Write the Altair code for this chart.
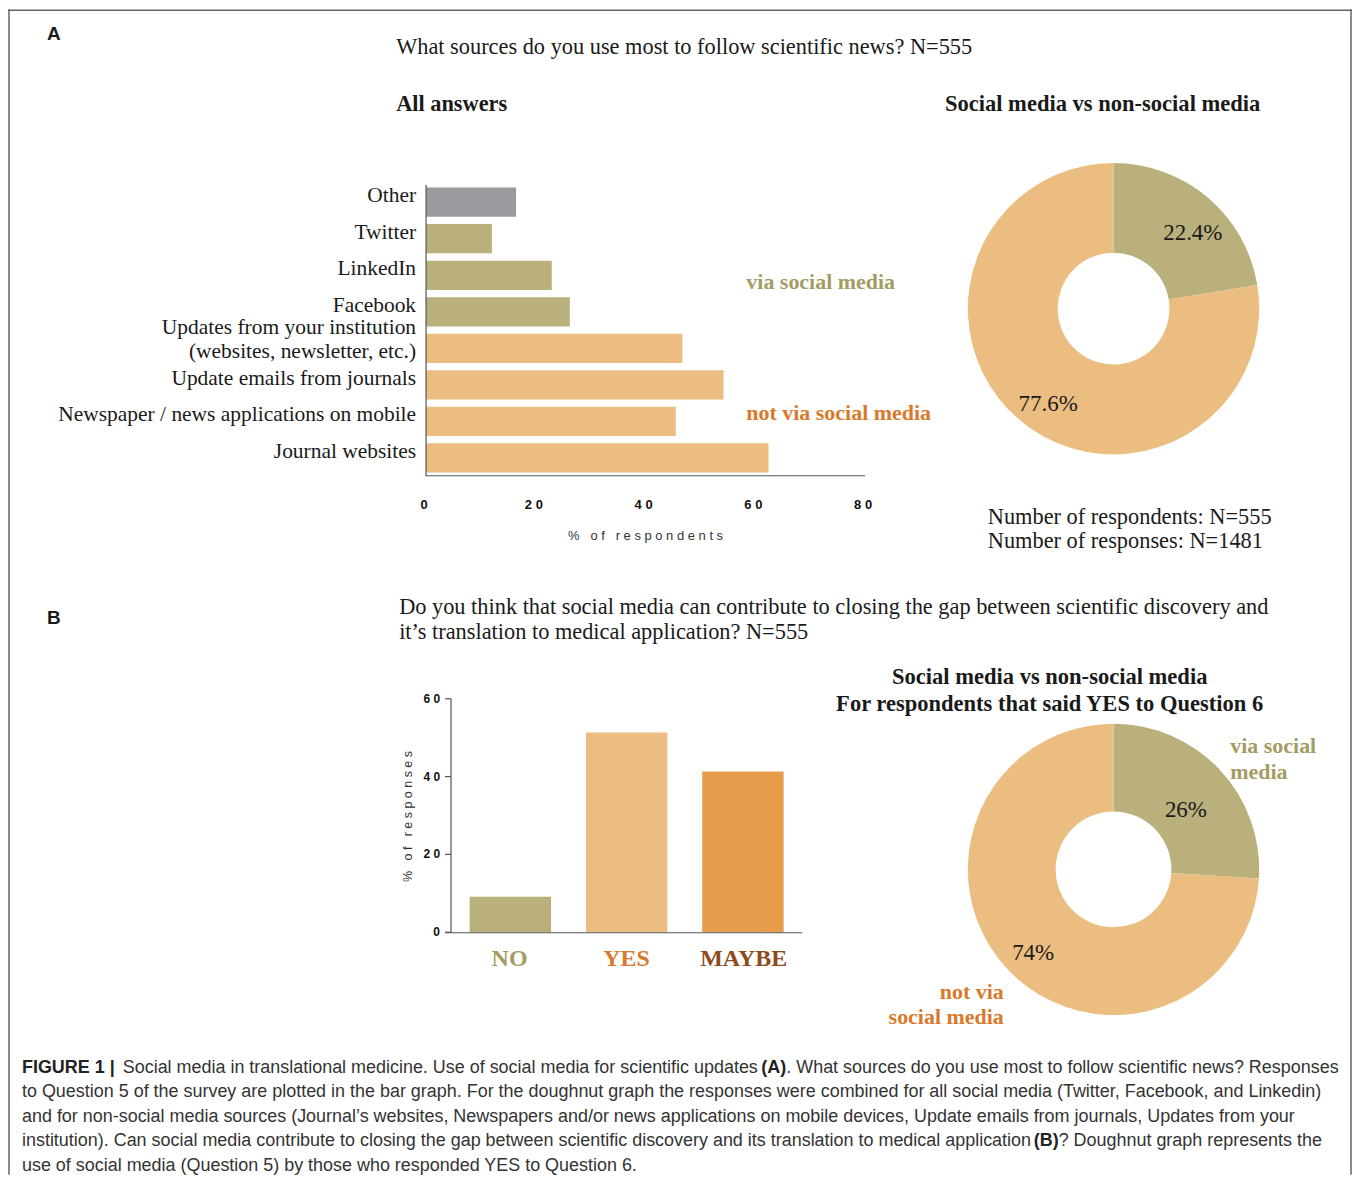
import altair as alt
import pandas as pd

# ---------------- data ----------------
sources = [
    "Other",
    "Twitter",
    "LinkedIn",
    "Facebook",
    "Updates from your institution\n(websites, newsletter, etc.)",
    "Update emails from journals",
    "Newspaper / news applications on mobile",
    "Journal websites",
]
source_pct = [16.4, 12.0, 22.9, 26.2, 46.7, 54.2, 45.5, 62.4]
source_kind = ["other", "social", "social", "social",
               "non-social", "non-social", "non-social", "non-social"]
pct_ticks_a = [0, 20, 40, 60, 80]

donut_a_labels = ["via social media", "not via social media"]
donut_a_pct = [22.4, 77.6]

answers = ["NO", "YES", "MAYBE"]
answer_pct = [9.1, 51.3, 41.3]
pct_ticks_b = [0, 20, 40, 60]

donut_b_labels = ["via social media", "not via social media"]
donut_b_pct = [26, 74]

caption_lines = [
    "to Question 5 of the survey are plotted in the bar graph. For the doughnut graph the responses were combined for all social media (Twitter, Facebook, and Linkedin)",
    "and for non-social media sources (Journal\u2019s websites, Newspapers and/or news applications on mobile devices, Update emails from journals, Updates from your",
]

# ---------------- layout helpers ----------------
W, H = 1347, 1168


def X(px):
    return px - 8


def Y(py):
    return py - 8


SERIF = "Liberation Serif"
SANS = "Liberation Sans"
OLIVE = "#b9b07c"
ORANGE = "#ecbd80"
GRAY = "#9c9a9f"
DARK_ORANGE = "#e59d4b"
OLIVE_TXT = "#a39c63"
ORANGE_TXT = "#d9792c"
BROWN_TXT = "#8d4b1c"
INK = "#1a1a1a"
AXIS = "#555555"

one = pd.DataFrame({"k": [0]})


def spread(s):
    return " ".join("\u00a0" if c == " " else c for c in s)


def note(text, x, y, size=22, bold=False, align="left", font=SERIF,
         color=INK, angle=None):
    kw = dict(text=text, align=align, baseline="middle", font=font,
              fontSize=size, fontWeight="bold" if bold else "normal",
              color=color)
    if angle is not None:
        kw["angle"] = angle
    return alt.Chart(one).mark_text(**kw).encode(
        x=alt.value(X(x)), y=alt.value(Y(y)))


def hline(x1, x2, y, color=AXIS, w=1.2):
    return alt.Chart(one).mark_rule(color=color, strokeWidth=w).encode(
        x=alt.value(X(x1)), x2=alt.value(X(x2)), y=alt.value(Y(y)))


def vline(x, y1, y2, color=AXIS, w=1.2):
    return alt.Chart(one).mark_rule(color=color, strokeWidth=w).encode(
        x=alt.value(X(x)), y=alt.value(Y(y1)), y2=alt.value(Y(y2)))


spaced = "join(split(toString(datum.v), ''), ' ')"
layers = []

# ---------------- frame ----------------
layers.append(alt.Chart(one).mark_rule(color="#666", strokeWidth=1.5).encode(
    x=alt.value(0), x2=alt.value(W), y=alt.value(1)))
layers.append(alt.Chart(one).mark_rule(color="#666", strokeWidth=1.5).encode(
    x=alt.value(1), y=alt.value(0), y2=alt.value(H)))
layers.append(alt.Chart(one).mark_rule(color="#666", strokeWidth=1.5).encode(
    x=alt.value(W - 1), y=alt.value(0), y2=alt.value(H)))

# ---------------- panel A ----------------
layers.append(note("A", 54, 33, size=19, bold=True, font=SANS, align="center"))
layers.append(note("What sources do you use most to follow scientific news? N=555", 397, 46, size=22.4))
layers.append(note("All answers", 397, 103, bold=True, size=22.4))
layers.append(note("Social media vs non-social media", 947, 103, bold=True, size=22.6))

df_a = pd.DataFrame({"source": sources, "pct": source_pct, "kind": source_kind})
df_a["multi"] = ["\n" in s for s in sources]
ya = alt.Y("source:N", sort=sources, axis=None,
           scale=alt.Scale(domain=sources, range=[Y(183), Y(476)],
                           paddingInner=0.2, paddingOuter=0.1))
xa_scale = alt.Scale(domain=[0, 80], range=[X(427), X(867)])
xa = alt.X("pct:Q", axis=None, scale=xa_scale)

layers.append(alt.Chart(df_a).mark_bar().encode(
    y=ya, x=xa,
    color=alt.Color("kind:N", legend=None,
                    scale=alt.Scale(domain=["other", "social", "non-social"],
                                    range=[GRAY, OLIVE, ORANGE]))))
layers.append(alt.Chart(df_a).transform_filter("!datum.multi").mark_text(
    align="right", baseline="middle", dy=-6, font=SERIF, fontSize=21.5,
    color=INK).encode(y=ya, x=alt.value(X(417)), text="source:N"))
layers.append(alt.Chart(df_a).transform_filter("datum.multi").mark_text(
    align="right", baseline="middle", dy=-20, font=SERIF, fontSize=21.5,
    lineBreak="\n", lineHeight=24, color=INK).encode(
    y=ya, x=alt.value(X(417)), text="source:N"))
layers.append(vline(427, 184, 476))
layers.append(hline(427, 867, 475.5))
layers.append(alt.Chart(pd.DataFrame({"v": pct_ticks_a}))
              .transform_calculate(lab=spaced)
              .mark_text(font=SANS, fontSize=13, fontWeight="bold",
                         baseline="middle", color="#111", dx=-2)
              .encode(x=alt.X("v:Q", axis=None, scale=xa_scale),
                      y=alt.value(Y(505)), text="lab:N"))
layers.append(note(spread("% of respondents"), 647, 536, size=13, font=SANS,
                   align="center", color="#333"))
layers.append(note("via social media", 748, 281, bold=True, color=OLIVE_TXT))
layers.append(note("not via social media", 748, 413, bold=True, color=ORANGE_TXT))

# donut A
df_da = pd.DataFrame({"cat": donut_a_labels, "pct": donut_a_pct})
theta_a = alt.Theta("pct:Q", stack=True)
order_a = alt.Order("pct:Q", sort="ascending")
layers.append(alt.Chart(df_da).mark_arc(innerRadius=56, outerRadius=146).encode(
    theta=theta_a, order=order_a,
    color=alt.Color("cat:N", legend=None,
                    scale=alt.Scale(domain=donut_a_labels, range=[OLIVE, ORANGE])),
    x=alt.value(X(1116)), y=alt.value(Y(308))))
layers.append(alt.Chart(df_da).transform_calculate(lab="toString(datum.pct) + '%'")
              .mark_text(radius=112, font=SERIF, fontSize=23, color=INK)
              .encode(theta=theta_a, order=order_a, text="lab:N",
                      x=alt.value(X(1123)), y=alt.value(Y(318))))
layers.append(note("Number of respondents: N=555", 990, 517, size=22.4))
layers.append(note("Number of responses: N=1481", 990, 541, size=22.4))

# ---------------- panel B ----------------
layers.append(note("B", 54, 618, size=19, bold=True, font=SANS, align="center"))
layers.append(note("Do you think that social media can contribute to closing the gap between scientific discovery and", 400, 607, size=22.4))
layers.append(note("it\u2019s translation to medical application? N=555", 400, 632, size=22.4))

df_b = pd.DataFrame({"answer": answers, "pct": answer_pct})
xb = alt.X("answer:N", sort=answers, axis=None,
           scale=alt.Scale(domain=answers, range=[X(452), X(804)],
                           paddingInner=0.3, paddingOuter=0.16))
yb_scale = alt.Scale(domain=[0, 60], range=[Y(933), Y(699)])
layers.append(alt.Chart(df_b).mark_bar().encode(
    x=xb, y=alt.Y("pct:Q", axis=None, scale=yb_scale),
    color=alt.Color("answer:N", legend=None,
                    scale=alt.Scale(domain=answers, range=[OLIVE, ORANGE, DARK_ORANGE]))))
layers.append(alt.Chart(df_b).mark_text(
    font=SERIF, fontSize=24, fontWeight="bold", baseline="middle").encode(
    x=xb, y=alt.value(Y(960)), text="answer:N",
    color=alt.Color("answer:N", legend=None,
                    scale=alt.Scale(domain=answers, range=[OLIVE_TXT, ORANGE_TXT, BROWN_TXT]))))
df_tb = pd.DataFrame({"v": pct_ticks_b})
layers.append(alt.Chart(df_tb).mark_rule(color=AXIS, strokeWidth=1.2).encode(
    y=alt.Y("v:Q", axis=None, scale=yb_scale),
    x=alt.value(X(446)), x2=alt.value(X(452))))
layers.append(alt.Chart(df_tb).transform_calculate(lab=spaced)
              .mark_text(font=SANS, fontSize=12, fontWeight="bold", align="right",
                         baseline="middle", color="#111")
              .encode(y=alt.Y("v:Q", axis=None, scale=yb_scale),
                      x=alt.value(X(441)), text="lab:N"))
layers.append(vline(452, 699, 933.5))
layers.append(hline(446, 804, 933.5))
layers.append(note(spread("% of responses"), 409, 817, size=12.5, font=SANS,
                   align="center", color="#333", angle=270))

layers.append(note("Social media vs non-social media", 1052, 677, bold=True, align="center", size=22.6))
layers.append(note("For respondents that said YES to Question 6", 1052, 704, bold=True, align="center", size=22.6))

df_db = pd.DataFrame({"cat": donut_b_labels, "pct": donut_b_pct})
layers.append(alt.Chart(df_db).mark_arc(innerRadius=58, outerRadius=146).encode(
    theta=theta_a, order=order_a,
    color=alt.Color("cat:N", legend=None,
                    scale=alt.Scale(domain=donut_b_labels, range=[OLIVE, ORANGE])),
    x=alt.value(X(1116)), y=alt.value(Y(870))))
layers.append(alt.Chart(df_db).transform_calculate(lab="toString(datum.pct) + '%'")
              .mark_text(radius=105, font=SERIF, fontSize=23, color=INK)
              .encode(theta=theta_a, order=order_a, text="lab:N",
                      x=alt.value(X(1112)), y=alt.value(Y(882))))
layers.append(note("via social", 1233, 746, bold=True, color=OLIVE_TXT))
layers.append(note("media", 1233, 772, bold=True, color=OLIVE_TXT))
layers.append(note("not via", 1006, 993, bold=True, align="right", color=ORANGE_TXT))
layers.append(note("social media", 1006, 1018, bold=True, align="right", color=ORANGE_TXT))

# ---------------- caption ----------------
CAP = 18
CAPC = "#333333"
cy0 = 1069
LS = 24.5
layers.append(note("FIGURE 1 |", 22, cy0, size=CAP, bold=True, font=SANS, color="#222"))
layers.append(note("Social media in translational medicine. Use of social media for scientific updates",
                   123, cy0, size=CAP, font=SANS, color=CAPC))
layers.append(note("(A)", 763, cy0, size=CAP, bold=True, font=SANS, color="#222"))
layers.append(note(". What sources do you use most to follow scientific news? Responses",
                   788, cy0, size=CAP, font=SANS, color=CAPC))
for i, line in enumerate(caption_lines):
    layers.append(note(line, 22, cy0 + LS * (i + 1), size=CAP, font=SANS, color=CAPC))
layers.append(note("institution). Can social media contribute to closing the gap between scientific discovery and its translation to medical application",
                   22, cy0 + 3 * LS, size=CAP, font=SANS, color=CAPC))
layers.append(note("(B)", 1036, cy0 + 3 * LS, size=CAP, bold=True, font=SANS, color="#222"))
layers.append(note("? Doughnut graph represents the", 1061, cy0 + 3 * LS, size=CAP,
                   font=SANS, color=CAPC))
layers.append(note("use of social media (Question 5) by those who responded YES to Question 6.",
                   22, cy0 + 4 * LS, size=CAP, font=SANS, color=CAPC))

chart = (alt.layer(*layers)
         .resolve_scale(x="independent", y="independent",
                        color="independent", theta="independent")
         .properties(width=W, height=H, autosize="none", padding=0,
                     background="white")
         .configure_view(stroke=None))

chart.save("out.html", embed_options={"renderer": "svg", "actions": False})
